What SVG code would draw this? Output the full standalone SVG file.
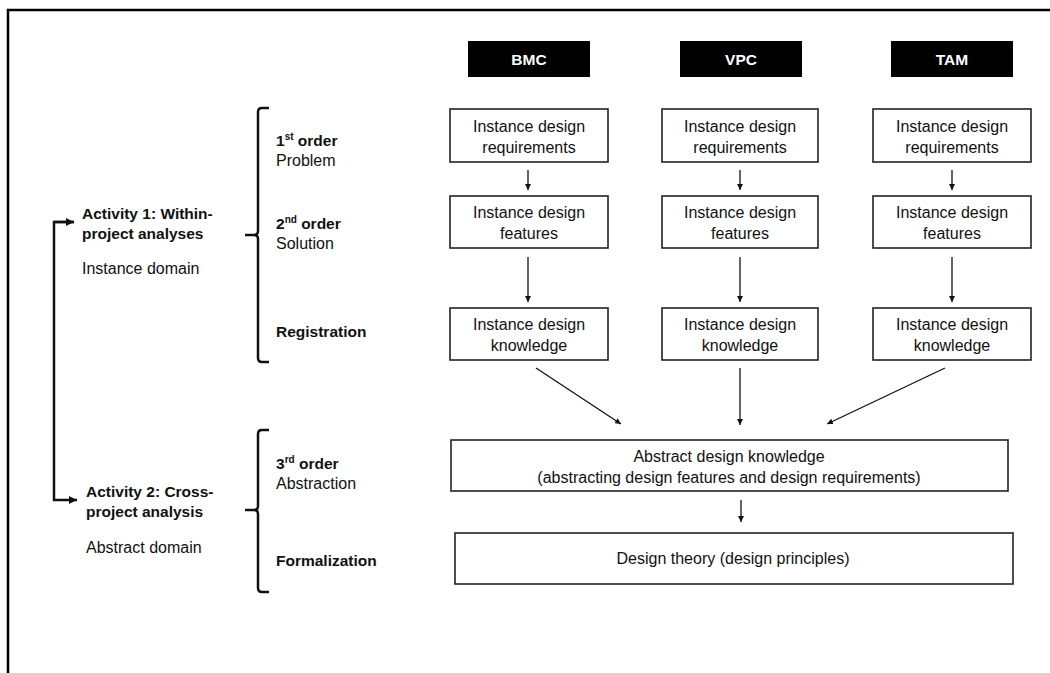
<svg xmlns="http://www.w3.org/2000/svg" width="1050" height="673" viewBox="0 0 1050 673">
<style>
.frame{fill:none;stroke:#000;stroke-width:2.5}
.box{fill:#fff;stroke:#222;stroke-width:1.6}
.hdr{fill:#000}
.t{font-family:"Liberation Sans",Arial,sans-serif;font-size:16px;fill:#111;text-anchor:middle}
.h{font-family:"Liberation Sans",Arial,sans-serif;font-size:15.5px;font-weight:bold;fill:#fff;text-anchor:middle}
.b{font-family:"Liberation Sans",Arial,sans-serif;font-size:15.5px;font-weight:bold;fill:#111}
.r{font-family:"Liberation Sans",Arial,sans-serif;font-size:16px;fill:#111}
.sup{font-size:10px}
.c{fill:none;stroke:#111;stroke-width:1.3}
.br{fill:none;stroke:#111;stroke-width:2.5}
</style>
<defs>
<marker id="ah" viewBox="0 0 10 10" refX="10" refY="5" markerWidth="6" markerHeight="6" markerUnits="userSpaceOnUse" orient="auto">
<path d="M0,0 L10,5 L0,10 z" fill="#111"/>
</marker>
<marker id="ahb" viewBox="0 0 10 10" refX="10" refY="5" markerWidth="8" markerHeight="8" markerUnits="userSpaceOnUse" orient="auto">
<path d="M0,0 L10,5 L0,10 z" fill="#111"/>
</marker>
</defs>
<rect width="1050" height="673" fill="#fff"/>
<path class="frame" d="M8,673 V10 H1050"/>

<g id="hdr-bmc"><rect class="hdr" x="468" y="41" width="122" height="36"/><text class="h" x="529" y="65">BMC</text></g>
<g id="hdr-vpc"><rect class="hdr" x="680" y="41" width="122" height="36"/><text class="h" x="741" y="65">VPC</text></g>
<g id="hdr-tam"><rect class="hdr" x="891" y="41" width="122" height="36"/><text class="h" x="952" y="65">TAM</text></g>

<g id="bmc-req"><rect class="box" x="450" y="109" width="158" height="53"/><text class="t" x="529" y="132">Instance design</text><text class="t" x="529" y="153">requirements</text></g>
<g id="vpc-req"><rect class="box" x="662" y="109" width="156" height="53"/><text class="t" x="740" y="132">Instance design</text><text class="t" x="740" y="153">requirements</text></g>
<g id="tam-req"><rect class="box" x="873" y="109" width="158" height="53"/><text class="t" x="952" y="132">Instance design</text><text class="t" x="952" y="153">requirements</text></g>

<g id="bmc-feat"><rect class="box" x="450" y="196" width="158" height="52"/><text class="t" x="529" y="218">Instance design</text><text class="t" x="529" y="239">features</text></g>
<g id="vpc-feat"><rect class="box" x="662" y="196" width="156" height="52"/><text class="t" x="740" y="218">Instance design</text><text class="t" x="740" y="239">features</text></g>
<g id="tam-feat"><rect class="box" x="873" y="196" width="158" height="52"/><text class="t" x="952" y="218">Instance design</text><text class="t" x="952" y="239">features</text></g>

<g id="bmc-know"><rect class="box" x="450" y="308" width="158" height="52"/><text class="t" x="529" y="330">Instance design</text><text class="t" x="529" y="351">knowledge</text></g>
<g id="vpc-know"><rect class="box" x="662" y="308" width="156" height="52"/><text class="t" x="740" y="330">Instance design</text><text class="t" x="740" y="351">knowledge</text></g>
<g id="tam-know"><rect class="box" x="873" y="308" width="158" height="52"/><text class="t" x="952" y="330">Instance design</text><text class="t" x="952" y="351">knowledge</text></g>

<g id="abstract"><rect class="box" x="451" y="440" width="557" height="51"/><text class="t" x="729" y="462">Abstract design knowledge</text><text class="t" x="729" y="483">(abstracting design features and design requirements)</text></g>
<g id="theory"><rect class="box" x="455" y="533" width="558" height="51"/><text class="t" x="733" y="564">Design theory (design principles)</text></g>

<g id="labels">
<text class="b" x="276" y="146">1<tspan class="sup" dy="-6">st</tspan><tspan dy="6"> order</tspan></text>
<text class="r" x="276" y="166">Problem</text>
<text class="b" x="276" y="229">2<tspan class="sup" dy="-6">nd</tspan><tspan dy="6"> order</tspan></text>
<text class="r" x="276" y="249">Solution</text>
<text class="b" x="276" y="337">Registration</text>
<text class="b" x="276" y="469">3<tspan class="sup" dy="-6">rd</tspan><tspan dy="6"> order</tspan></text>
<text class="r" x="276" y="489">Abstraction</text>
<text class="b" x="276" y="566">Formalization</text>
</g>
<g id="activity1">
<text class="b" x="82" y="219">Activity 1: Within-</text>
<text class="b" x="82" y="239">project analyses</text>
<text class="r" x="82" y="274">Instance domain</text>
</g>
<g id="activity2">
<text class="b" x="86" y="497">Activity 2: Cross-</text>
<text class="b" x="86" y="517">project analysis</text>
<text class="r" x="86" y="553">Abstract domain</text>
</g>
<g id="braces">
<path class="br" d="M269,108 H262 Q258,108 258,112 V231 Q258,235 254,235 H245 M254,235 Q258,235 258,239 V358 Q258,362 262,362 H269"/>
<path class="br" d="M269,430 H262 Q258,430 258,434 V506 Q258,510 254,510 H245 M254,510 Q258,510 258,514 V588 Q258,592 262,592 H269"/>
</g>
<g id="connectors">
<path class="br" d="M74,222 H54 V500 H77" marker-end="url(#ahb)"/>
<path class="br" d="M54,222 H74" marker-end="url(#ahb)"/>
<line class="c" x1="528" y1="170" x2="528" y2="190" marker-end="url(#ah)"/>
<line class="c" x1="740" y1="170" x2="740" y2="190" marker-end="url(#ah)"/>
<line class="c" x1="952" y1="170" x2="952" y2="190" marker-end="url(#ah)"/>
<line class="c" x1="528" y1="257" x2="528" y2="302" marker-end="url(#ah)"/>
<line class="c" x1="740" y1="257" x2="740" y2="302" marker-end="url(#ah)"/>
<line class="c" x1="952" y1="257" x2="952" y2="302" marker-end="url(#ah)"/>
<line class="c" x1="536" y1="368" x2="621" y2="424" marker-end="url(#ah)"/>
<line class="c" x1="740" y1="368" x2="740" y2="425" marker-end="url(#ah)"/>
<line class="c" x1="945" y1="368" x2="827" y2="424" marker-end="url(#ah)"/>
<line class="c" x1="741" y1="500" x2="741" y2="522" marker-end="url(#ah)"/>
</g>
</svg>
